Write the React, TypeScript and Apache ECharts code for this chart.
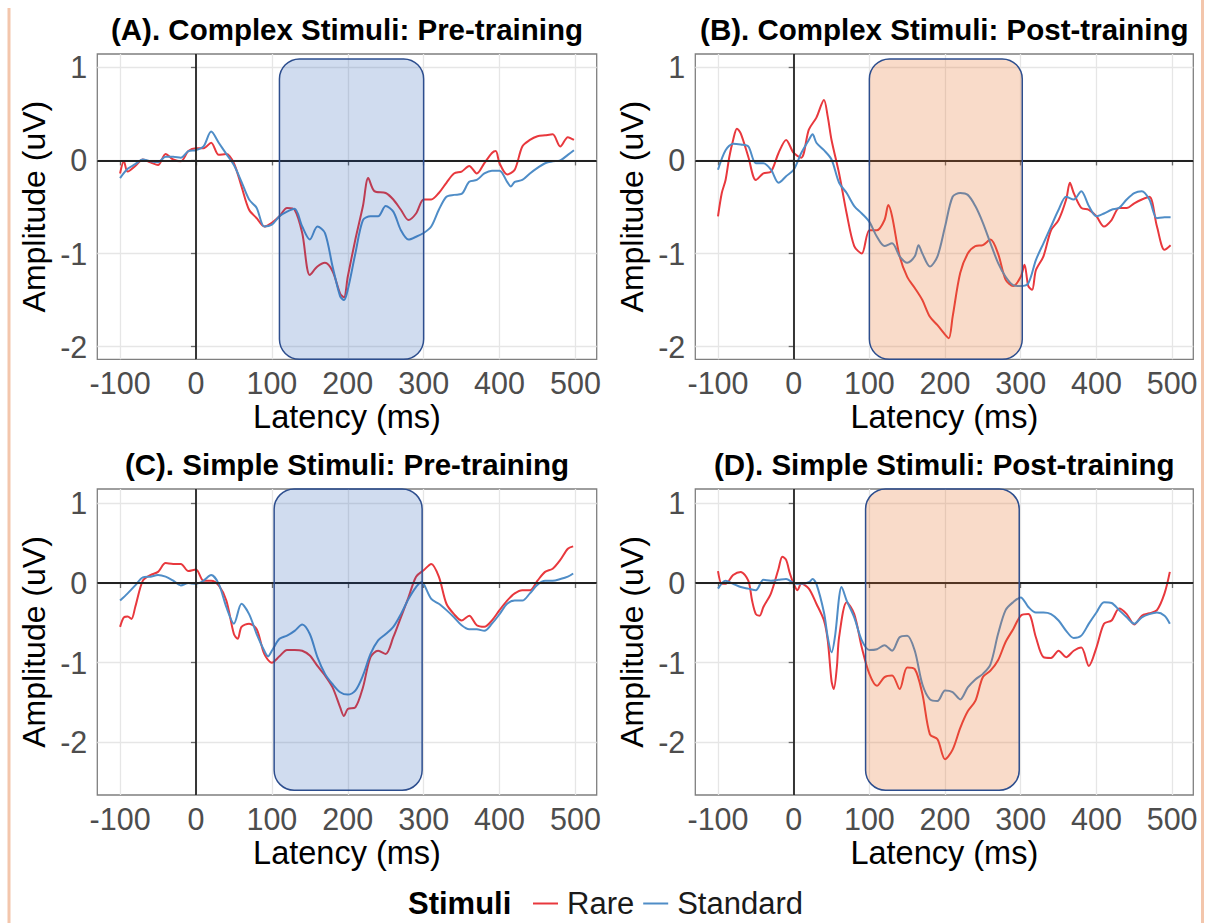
import React, { useEffect, useRef } from "react";
import * as echarts from "echarts";

const FONT = "'Liberation Sans', Arial, Helvetica, sans-serif";

const TITLES = [
  "(A). Complex Stimuli: Pre-training",
  "(B). Complex Stimuli: Post-training",
  "(C). Simple Stimuli: Pre-training",
  "(D). Simple Stimuli: Post-training",
];
const X_NAME = "Latency (ms)";
const Y_NAME = "Amplitude (uV)";
const LEGEND_TITLE = "Stimuli";
const SERIES_NAMES = ["Rare", "Standard"];
const X_TICKS = [-100, 0, 100, 200, 300, 400, 500];
const Y_TICKS = [-2, -1, 0, 1];

// [latency ms, amplitude uV]
const A_RARE = [[-100,-0.14],[-95,-0.01],[-90,-0.12],[-80,-0.06],[-70,0.01],[-60,-0.02],[-50,-0.05],[-40,0.07],[-30,0.01],[-20,-0.01],[-10,0.1],[0,0.13],[10,0.13],[20,0.19],[30,0.06],[40,0.07],[50,-0.03],[60,-0.28],[70,-0.53],[80,-0.62],[90,-0.71],[100,-0.67],[110,-0.6],[120,-0.51],[130,-0.53],[140,-0.78],[150,-1.23],[160,-1.14],[170,-1.1],[180,-1.19],[190,-1.43],[195,-1.47],[200,-1.25],[210,-0.85],[220,-0.49],[227,-0.19],[235,-0.33],[250,-0.35],[260,-0.42],[270,-0.53],[280,-0.64],[290,-0.57],[300,-0.42],[310,-0.42],[320,-0.35],[330,-0.24],[340,-0.14],[350,-0.12],[360,-0.06],[370,-0.14],[380,-0.03],[390,0.08],[395,0.1],[400,-0.03],[410,-0.15],[420,-0.1],[430,0.15],[440,0.22],[450,0.26],[460,0.27],[470,0.28],[480,0.15],[490,0.25],[498,0.22]];
const A_STD = [[-100,-0.19],[-90,-0.09],[-80,-0.04],[-70,0.01],[-60,-0.01],[-50,-0.02],[-40,0.04],[-30,0.04],[-20,0.03],[-10,0.1],[0,0.11],[10,0.15],[20,0.31],[30,0.19],[40,0.07],[50,-0.05],[60,-0.23],[70,-0.42],[80,-0.51],[90,-0.71],[100,-0.69],[110,-0.6],[120,-0.55],[130,-0.52],[140,-0.71],[150,-0.85],[160,-0.71],[170,-0.78],[180,-1.14],[190,-1.46],[195,-1.5],[200,-1.39],[210,-1.0],[220,-0.64],[230,-0.6],[240,-0.6],[250,-0.49],[260,-0.55],[270,-0.75],[280,-0.85],[290,-0.82],[300,-0.78],[310,-0.71],[320,-0.53],[330,-0.39],[340,-0.37],[350,-0.36],[360,-0.23],[370,-0.21],[380,-0.14],[390,-0.11],[400,-0.11],[410,-0.23],[415,-0.28],[420,-0.23],[430,-0.21],[440,-0.14],[450,-0.08],[460,-0.03],[470,-0.01],[480,0],[490,0.06],[498,0.11]];
const B_RARE = [[-100,-0.6],[-95,-0.35],[-90,-0.21],[-85,0.04],[-80,0.22],[-75,0.34],[-70,0.29],[-60,0.04],[-50,-0.21],[-40,-0.14],[-30,-0.12],[-20,0.08],[-10,0.22],[0,0.08],[10,0.03],[20,0.33],[30,0.46],[40,0.65],[45,0.47],[50,0.22],[60,-0.14],[70,-0.57],[80,-0.92],[90,-1.0],[100,-0.75],[110,-0.75],[120,-0.64],[125,-0.48],[130,-0.6],[140,-1.03],[150,-1.25],[160,-1.37],[170,-1.5],[180,-1.68],[190,-1.77],[200,-1.87],[205,-1.91],[210,-1.68],[220,-1.21],[230,-1.0],[240,-0.92],[250,-0.91],[260,-0.85],[270,-1.0],[280,-1.28],[290,-1.35],[300,-1.25],[305,-1.12],[310,-1.35],[315,-1.39],[320,-1.18],[330,-1.03],[340,-0.75],[350,-0.64],[360,-0.42],[365,-0.24],[370,-0.35],[380,-0.51],[390,-0.53],[400,-0.6],[410,-0.71],[420,-0.64],[430,-0.51],[440,-0.51],[450,-0.46],[460,-0.42],[470,-0.39],[480,-0.71],[490,-0.96],[498,-0.91]];
const B_STD = [[-100,-0.1],[-90,0.11],[-80,0.18],[-70,0.17],[-60,0.15],[-50,-0.03],[-40,-0.03],[-30,-0.1],[-20,-0.24],[-10,-0.17],[0,-0.1],[10,0.08],[20,0.22],[25,0.28],[30,0.19],[40,0.11],[50,0.01],[60,-0.24],[70,-0.35],[80,-0.49],[90,-0.57],[100,-0.66],[110,-0.82],[120,-0.92],[130,-0.89],[140,-1.03],[150,-1.1],[160,-1.03],[165,-0.91],[170,-1.0],[180,-1.14],[190,-1.03],[200,-0.71],[210,-0.39],[220,-0.35],[230,-0.37],[240,-0.49],[250,-0.67],[260,-0.89],[270,-1.1],[280,-1.25],[290,-1.34],[300,-1.35],[310,-1.32],[320,-1.07],[330,-0.89],[340,-0.71],[350,-0.53],[360,-0.39],[370,-0.42],[380,-0.33],[390,-0.49],[400,-0.6],[410,-0.57],[420,-0.53],[430,-0.51],[440,-0.42],[450,-0.35],[460,-0.33],[470,-0.42],[480,-0.62],[490,-0.61],[498,-0.61]];
const C_RARE = [[-100,-0.55],[-95,-0.43],[-90,-0.42],[-85,-0.45],[-80,-0.3],[-70,0.03],[-60,0.1],[-50,0.14],[-40,0.25],[-30,0.24],[-20,0.24],[-10,0.15],[0,0.17],[10,0.03],[20,0.03],[30,-0.03],[40,-0.22],[50,-0.64],[55,-0.7],[60,-0.55],[70,-0.51],[80,-0.58],[90,-0.89],[100,-1.0],[110,-0.92],[120,-0.84],[130,-0.84],[140,-0.85],[150,-0.91],[160,-1.04],[170,-1.16],[180,-1.31],[190,-1.56],[195,-1.67],[200,-1.58],[210,-1.56],[220,-1.31],[230,-0.93],[240,-0.85],[250,-0.89],[260,-0.68],[270,-0.43],[280,-0.18],[290,0.08],[300,0.16],[310,0.24],[320,0.08],[330,-0.26],[340,-0.39],[350,-0.47],[360,-0.41],[370,-0.53],[380,-0.55],[390,-0.47],[400,-0.34],[410,-0.22],[420,-0.13],[430,-0.09],[440,-0.09],[450,0.03],[460,0.14],[470,0.18],[480,0.29],[490,0.43],[497,0.46]];
const C_STD = [[-100,-0.22],[-90,-0.13],[-80,-0.03],[-70,0.07],[-60,0.08],[-50,0.1],[-40,0.08],[-30,0.03],[-20,-0.03],[-10,0],[0,-0.01],[10,0.03],[20,0.1],[30,-0.01],[40,-0.3],[50,-0.51],[60,-0.26],[70,-0.39],[80,-0.64],[90,-0.85],[95,-0.92],[100,-0.85],[110,-0.7],[120,-0.66],[130,-0.6],[140,-0.52],[150,-0.64],[160,-0.93],[170,-1.14],[180,-1.27],[190,-1.37],[200,-1.4],[210,-1.35],[220,-1.16],[230,-0.89],[240,-0.72],[250,-0.64],[260,-0.55],[270,-0.39],[280,-0.2],[290,-0.05],[297,0.01],[300,-0.01],[310,-0.2],[320,-0.26],[330,-0.34],[340,-0.43],[350,-0.53],[360,-0.58],[370,-0.58],[380,-0.6],[390,-0.51],[400,-0.39],[410,-0.26],[420,-0.22],[430,-0.22],[440,-0.13],[450,-0.02],[460,0.03],[470,0.03],[480,0.05],[490,0.08],[497,0.12]];
const D_RARE = [[-100,0.15],[-95,-0.01],[-90,-0.01],[-80,0.1],[-70,0.14],[-60,0.03],[-55,-0.22],[-50,-0.39],[-45,-0.41],[-40,-0.3],[-30,-0.13],[-20,0.18],[-15,0.33],[-10,0.29],[-5,0.12],[0,-0.01],[5,-0.09],[10,-0.01],[20,-0.07],[30,-0.26],[40,-0.47],[45,-0.72],[50,-1.23],[53,-1.33],[57,-1.06],[60,-0.68],[70,-0.24],[80,-0.39],[90,-0.81],[100,-1.14],[110,-1.29],[120,-1.18],[130,-1.16],[140,-1.33],[150,-1.06],[160,-1.08],[170,-1.39],[180,-1.9],[190,-1.96],[200,-2.21],[210,-2.09],[220,-1.82],[230,-1.61],[240,-1.48],[250,-1.18],[260,-1.1],[270,-0.97],[280,-0.74],[290,-0.58],[300,-0.41],[310,-0.39],[320,-0.68],[330,-0.93],[340,-0.94],[350,-0.85],[360,-0.93],[370,-0.85],[380,-0.81],[390,-1.04],[400,-0.81],[410,-0.51],[420,-0.47],[430,-0.32],[440,-0.39],[450,-0.52],[460,-0.41],[470,-0.38],[480,-0.34],[490,-0.13],[497,0.14]];
const D_STD = [[-100,-0.07],[-90,0.03],[-80,-0.01],[-70,-0.05],[-60,-0.07],[-50,-0.09],[-40,0.04],[-30,0.03],[-20,0.04],[-10,0.05],[0,0],[10,-0.01],[20,0.01],[25,0.05],[30,-0.01],[40,-0.37],[45,-0.68],[50,-0.87],[55,-0.64],[60,-0.18],[63,-0.05],[70,-0.22],[80,-0.43],[90,-0.72],[100,-0.84],[110,-0.83],[120,-0.78],[130,-0.85],[140,-0.68],[150,-0.66],[160,-0.85],[170,-1.27],[180,-1.46],[190,-1.48],[200,-1.35],[210,-1.37],[220,-1.46],[230,-1.31],[240,-1.21],[250,-1.14],[260,-1.02],[270,-0.64],[280,-0.34],[290,-0.24],[300,-0.18],[310,-0.3],[320,-0.37],[330,-0.37],[340,-0.39],[350,-0.47],[360,-0.6],[370,-0.69],[380,-0.66],[390,-0.51],[400,-0.37],[410,-0.24],[420,-0.25],[430,-0.34],[440,-0.43],[450,-0.51],[460,-0.43],[470,-0.39],[480,-0.37],[490,-0.41],[497,-0.51]];

// analysis windows: [xStart, xEnd, yBottom, yTop]
const A_WINDOW = [110, 300, -2.136, 1.09];
const B_WINDOW = [100, 302, -2.136, 1.09];
const C_WINDOW = [103, 298, -2.6, 1.18];
const D_WINDOW = [95, 298, -2.6, 1.18];

const X_RANGE = [-130, 528];
const Y_RANGE_TOP = [-2.136, 1.143];
const Y_RANGE_BOTTOM = [-2.66, 1.18];

const RED = "#E8383D";
const BLUE = "#4F8DC7";
const FILL_PRE = "rgba(20,80,175,0.2)";
const FILL_POST = "rgba(230,110,40,0.25)";
const WINDOW_STROKE = "#2D4E8E";

const BOXES = [
  { left: 97.3, top: 54, width: 499.4, height: 305.3 },
  { left: 695.3, top: 54, width: 498, height: 305.3 },
  { left: 97.3, top: 489, width: 499.4, height: 306 },
  { left: 695.3, top: 489, width: 498, height: 306 },
];

function buildOption() {
  const panels = [
    { title: TITLES[0], rare: A_RARE, std: A_STD, win: A_WINDOW, fill: FILL_PRE, y: Y_RANGE_TOP },
    { title: TITLES[1], rare: B_RARE, std: B_STD, win: B_WINDOW, fill: FILL_POST, y: Y_RANGE_TOP },
    { title: TITLES[2], rare: C_RARE, std: C_STD, win: C_WINDOW, fill: FILL_PRE, y: Y_RANGE_BOTTOM },
    { title: TITLES[3], rare: D_RARE, std: D_STD, win: D_WINDOW, fill: FILL_POST, y: Y_RANGE_BOTTOM },
  ];

  const grid = BOXES.map((b) => ({
    ...b,
    show: true,
    borderColor: "#7f7f7f",
    borderWidth: 1.3,
    backgroundColor: "transparent",
  }));

  const xAxis = BOXES.map((_, i) => ({
    type: "value",
    gridIndex: i,
    min: X_RANGE[0],
    max: X_RANGE[1],
    splitNumber: 12,
    axisLine: { show: false },
    axisTick: { show: true, customValues: X_TICKS, length: 5, lineStyle: { color: "#6a6a6a", width: 1.3 } },
    axisLabel: { customValues: X_TICKS, fontSize: 30.5, color: "#4d4d4d", margin: 8, fontFamily: FONT },
    splitLine: { show: true, lineStyle: { color: "#e6e6e6", width: 1.3 } },
  }));

  const yAxis = panels.map((p, i) => ({
    type: "value",
    gridIndex: i,
    min: p.y[0],
    max: p.y[1],
    splitNumber: 7,
    axisLine: { show: false },
    axisTick: { show: true, customValues: Y_TICKS, length: 5, lineStyle: { color: "#6a6a6a", width: 1.3 } },
    axisLabel: { customValues: Y_TICKS, fontSize: 30.5, color: "#4d4d4d", margin: 10, fontFamily: FONT },
    splitLine: { show: true, lineStyle: { color: "#e6e6e6", width: 1.3 } },
  }));

  const series: any[] = [];
  panels.forEach((p, i) => {
    series.push({
      type: "line",
      name: "zero",
      xAxisIndex: i,
      yAxisIndex: i,
      data: [[0, 0]],
      symbol: "none",
      lineStyle: { opacity: 0 },
      silent: true,
      z: 1,
      markLine: {
        silent: true,
        symbol: "none",
        label: { show: false },
        lineStyle: { color: "#222", width: 1.8, type: "solid" },
        data: [{ yAxis: 0 }, { xAxis: 0 }],
      },
    });
    series.push({
      type: "line",
      name: SERIES_NAMES[0],
      xAxisIndex: i,
      yAxisIndex: i,
      data: p.rare,
      symbol: "none",
      smooth: 0.3,
      color: RED,
      lineStyle: { color: RED, width: 2 },
      z: 3,
    });
    series.push({
      type: "line",
      name: SERIES_NAMES[1],
      xAxisIndex: i,
      yAxisIndex: i,
      data: p.std,
      symbol: "none",
      smooth: 0.3,
      color: BLUE,
      lineStyle: { color: BLUE, width: 2 },
      z: 3,
    });
    series.push({
      type: "custom",
      name: "window",
      xAxisIndex: i,
      yAxisIndex: i,
      silent: true,
      z: 5,
      encode: { x: [0, 1], y: [2, 3] },
      data: [p.win],
      renderItem: (_params: any, api: any) => {
        const tl = api.coord([api.value(0), api.value(3)]);
        const br = api.coord([api.value(1), api.value(2)]);
        return {
          type: "rect",
          shape: { x: tl[0], y: tl[1], width: br[0] - tl[0], height: br[1] - tl[1], r: 20 },
          style: { fill: p.fill, stroke: WINDOW_STROKE, lineWidth: 1.5 },
        };
      },
    });
  });

  const graphic: any[] = [];
  BOXES.forEach((b, i) => {
    const cx = b.left + b.width / 2;
    const cy = b.top + b.height / 2;
    graphic.push({
      type: "text",
      x: cx,
      y: b.top - 25,
      style: { text: TITLES[i], fontSize: 29.5, fontWeight: "bold", fontFamily: FONT, fill: "#000", textAlign: "center", textVerticalAlign: "middle", align: "center", verticalAlign: "middle" },
    });
    graphic.push({
      type: "text",
      x: cx,
      y: b.top + b.height + 58,
      style: { text: X_NAME, fontSize: 32.5, fontFamily: FONT, fill: "#000", textAlign: "center", textVerticalAlign: "middle", align: "center", verticalAlign: "middle" },
    });
    graphic.push({
      type: "text",
      x: b.left - 63,
      y: cy,
      rotation: Math.PI / 2,
      style: { text: Y_NAME, fontSize: 32, fontFamily: FONT, fill: "#000", textAlign: "center", textVerticalAlign: "middle", align: "center", verticalAlign: "middle" },
    });
  });
  graphic.push({
    type: "text",
    x: 408,
    y: 903,
    style: { text: LEGEND_TITLE, fontSize: 31, fontWeight: "bold", fontFamily: FONT, fill: "#000", textAlign: "left", textVerticalAlign: "middle", align: "left", verticalAlign: "middle" },
  });
  graphic.push({ type: "rect", shape: { x: 7.5, y: 8, width: 3, height: 915 }, style: { fill: "#F3C6AC" }, silent: true });
  graphic.push({ type: "rect", shape: { x: 1201, y: 0, width: 3, height: 923 }, style: { fill: "#F3C6AC" }, silent: true });

  return {
    animation: false,
    backgroundColor: "#ffffff",
    textStyle: { fontFamily: FONT },
    grid,
    xAxis,
    yAxis,
    series,
    graphic,
    legend: {
      data: SERIES_NAMES,
      left: 528,
      top: 883,
      icon: "rect",
      itemWidth: 25,
      itemHeight: 2,
      itemGap: 9,
      selectedMode: false,
      textStyle: { fontSize: 31, color: "#1a1a1a", fontFamily: FONT, padding: [0, 0, 0, 4] },
    },
  };
}

export default function App() {
  const ref = useRef<HTMLDivElement>(null);
  useEffect(() => {
    const chart = echarts.init(ref.current!, null, { renderer: "svg" });
    chart.setOption(buildOption() as any);
    return () => chart.dispose();
  }, []);
  return (
    <div
      ref={ref}
      style={{ position: "fixed", left: 0, top: 0, width: 1209, height: 923, background: "#fff" }}
    />
  );
}
